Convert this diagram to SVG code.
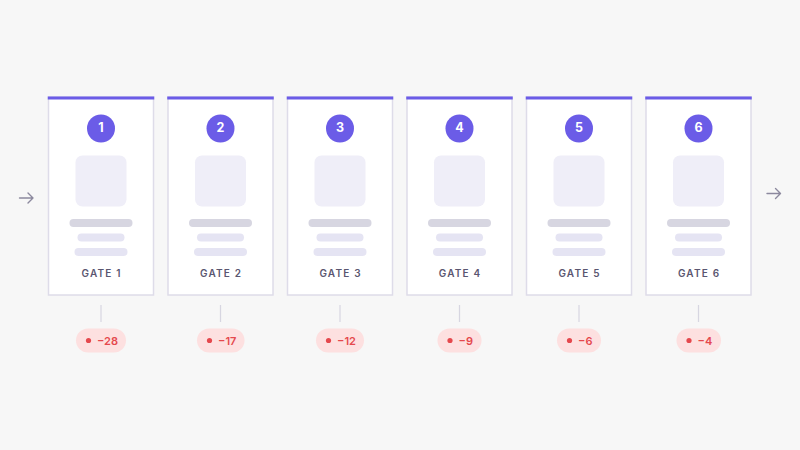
<svg xmlns="http://www.w3.org/2000/svg" width="800" height="450" viewBox="0 0 800 450">
<defs>
<style>
.card{fill:#ffffff;stroke:#dedce9;stroke-width:1.5}
.bar{fill:#6b5ce7}
.num{fill:#6b5ce7}
.numt{fill:#ffffff;font-family:Inter,"Liberation Sans",sans-serif;font-weight:700;font-size:12.5px;text-anchor:middle}
.ph{fill:#efeef8}
.l1{fill:#d7d6e1}
.l2{fill:#e5e4f3}
.lbl{fill:#5a5670;font-family:Inter,"Liberation Sans",sans-serif;font-weight:600;font-size:10px;letter-spacing:1.2px;text-anchor:middle}
.conn{stroke:#d7d6e1;stroke-width:1.2;fill:none}
.pill{fill:#fde0e0}
.dot{fill:#e5484d}
.pt{fill:#e5484d;font-family:Inter,"Liberation Sans",sans-serif;font-weight:600;font-size:11px}
.arr{stroke:#8c899e;stroke-width:1.4;fill:none;stroke-linecap:round;stroke-linejoin:round}
</style>
<g id="gate">
<rect class="card" x="-52.5" y="97" width="105" height="198"/>
<rect class="bar" x="-53.25" y="96.5" width="106.5" height="3"/>
<circle class="num" cx="0" cy="128.5" r="14"/>
<rect class="ph" x="-25.5" y="155.5" width="51" height="51" rx="7"/>
<rect class="l1" x="-31.5" y="219" width="63" height="8" rx="4"/>
<rect class="l2" x="-23.5" y="233.5" width="47" height="8" rx="4"/>
<rect class="l2" x="-26.5" y="248" width="53" height="8" rx="4"/>
</g>
</defs>
<rect width="800" height="450" fill="#f7f7f7"/>
<g id="connectors">
<path class="arr" d="M19.5 198 H33 M28 193 L33 198 L28 203"/>
<path class="arr" d="M767 193.5 H780.5 M775.5 188.5 L780.5 193.5 L775.5 198.5"/>
<line class="conn" x1="101" y1="305" x2="101" y2="322"/>
<line class="conn" x1="220.5" y1="305" x2="220.5" y2="322"/>
<line class="conn" x1="340" y1="305" x2="340" y2="322"/>
<line class="conn" x1="459.5" y1="305" x2="459.5" y2="322"/>
<line class="conn" x1="579" y1="305" x2="579" y2="322"/>
<line class="conn" x1="698.5" y1="305" x2="698.5" y2="322"/>
</g>
<g id="gate1"><use href="#gate" x="101"/><text class="numt" x="101" y="131.5">1</text><text class="lbl" x="101.6" y="277">GATE 1</text></g>
<g id="gate2"><use href="#gate" x="220.5"/><text class="numt" x="220.5" y="131.5">2</text><text class="lbl" x="221.1" y="277">GATE 2</text></g>
<g id="gate3"><use href="#gate" x="340"/><text class="numt" x="340" y="131.5">3</text><text class="lbl" x="340.6" y="277">GATE 3</text></g>
<g id="gate4"><use href="#gate" x="459.5"/><text class="numt" x="459.5" y="131.5">4</text><text class="lbl" x="460.1" y="277">GATE 4</text></g>
<g id="gate5"><use href="#gate" x="579"/><text class="numt" x="579" y="131.5">5</text><text class="lbl" x="579.6" y="277">GATE 5</text></g>
<g id="gate6"><use href="#gate" x="698.5"/><text class="numt" x="698.5" y="131.5">6</text><text class="lbl" x="699.1" y="277">GATE 6</text></g>
<g id="delta1"><rect class="pill" x="76" y="328.5" width="50" height="24" rx="12"/><circle class="dot" cx="88.5" cy="340.5" r="2.6"/><text class="pt" x="97" y="344.5">−28</text></g>
<g id="delta2"><rect class="pill" x="197" y="328.5" width="47.5" height="24" rx="12"/><circle class="dot" cx="209.5" cy="340.5" r="2.6"/><text class="pt" x="218" y="344.5">−17</text></g>
<g id="delta3"><rect class="pill" x="316" y="328.5" width="48" height="24" rx="12"/><circle class="dot" cx="328.5" cy="340.5" r="2.6"/><text class="pt" x="337" y="344.5">−12</text></g>
<g id="delta4"><rect class="pill" x="437.5" y="328.5" width="44" height="24" rx="12"/><circle class="dot" cx="450" cy="340.5" r="2.6"/><text class="pt" x="458.5" y="344.5">−9</text></g>
<g id="delta5"><rect class="pill" x="557" y="328.5" width="44" height="24" rx="12"/><circle class="dot" cx="569.5" cy="340.5" r="2.6"/><text class="pt" x="578" y="344.5">−6</text></g>
<g id="delta6"><rect class="pill" x="676.5" y="328.5" width="44.5" height="24" rx="12"/><circle class="dot" cx="689" cy="340.5" r="2.6"/><text class="pt" x="697.5" y="344.5">−4</text></g>
</svg>
